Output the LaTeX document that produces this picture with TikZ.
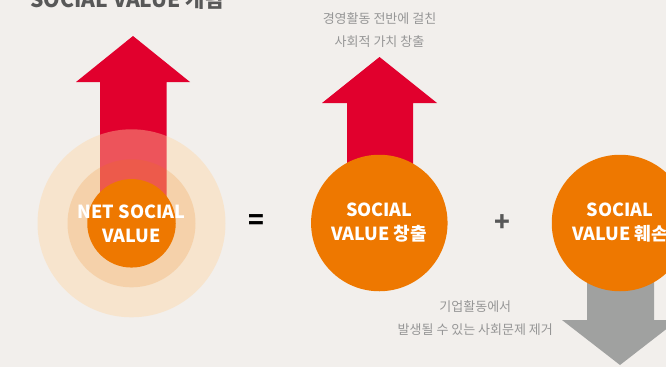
\documentclass[tikz,border=0pt]{standalone}
\usepackage{fontspec}
\setmainfont{Noto Sans CJK KR}
\usepackage{xcolor}
\usetikzlibrary{positioning}
\definecolor{bgcol}{RGB}{242,239,236}
\definecolor{svred}{RGB}{225,0,45}
\definecolor{svorange}{RGB}{238,120,0}
\definecolor{svgray}{RGB}{160,161,160}
\definecolor{notegray}{RGB}{150,150,150}
\definecolor{titlegray}{RGB}{88,88,88}
\definecolor{glow}{RGB}{255,212,160}

\begin{document}
\begin{tikzpicture}[x=1pt,y=-1pt,
    valuetext/.style={text=white,align=center,inner sep=0pt,
      font=\bfseries\fontsize{18}{24}\selectfont},
    value/.style={circle,fill=svorange,valuetext},
    note/.style={text=notegray,align=center,font=\fontsize{13}{23.5}\selectfont},
    sign/.style={font=\bfseries\fontsize{26}{26}\selectfont}]
    \fill[bgcol] (0,0) rectangle (666,367);
    \useasboundingbox (0,0) rectangle (666,367);

    \node[anchor=base west,text=titlegray,font=\bfseries\fontsize{21}{21}\selectfont] (title) at (27,7.5) {SOCIAL VALUE 개념};

    % net value with glow
    \fill[svred] (100,82) -- (76,82) -- (133,36) -- (190,82) -- (166.7,82) -- (166.7,223) -- (100,223) -- cycle;
    \fill[glow,opacity=0.4] (131.5,223.3) circle (94);
    \fill[svorange,opacity=0.17] (131.5,223.3) circle (64);
    \node[value,minimum size=88.5pt] (net) at (131.5,223.3) {};
    \node[valuetext] (nettext) at (net) {NET SOCIAL\\VALUE};

    \node[sign] (eq) at (256,222) {=};

    % creation
    \fill[svred] (347,103) -- (322,103) -- (379.5,57) -- (437,103) -- (413,103) -- (413,223) -- (347,223) -- cycle;
    \node[value,minimum size=136.5pt] (create) at (379.3,223) {SOCIAL\\VALUE 창출};
    \node[note] (createnote) at (379.5,30) {경영활동 전반에 걸친\\사회적 가치 창출};

    \node[sign,text=titlegray] (plus) at (502,223) {+};

    % loss
    \fill[svgray] (587,223) -- (654,223) -- (654,320) -- (678,320) -- (620,365) -- (562,320) -- (587,320) -- cycle;
    \node[value,minimum size=136.5pt] (loss) at (620,223) {SOCIAL\\VALUE 훼손};
    \node[note] (lossnote) at (475.3,318) {기업활동에서\\발생될 수 있는 사회문제 제거};
\end{tikzpicture}
\end{document}
